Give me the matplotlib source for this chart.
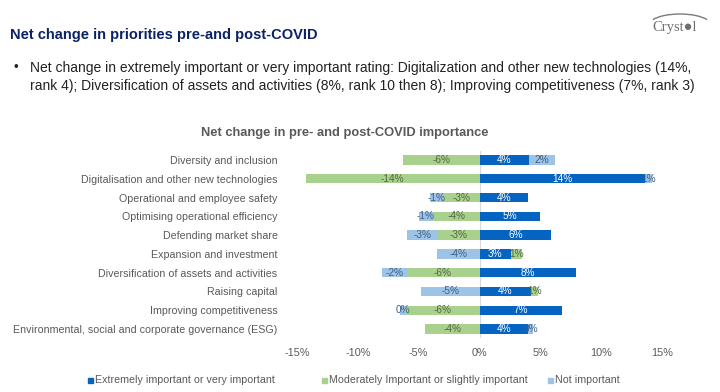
"""Diverging stacked bars: net change in priorities pre- and post-COVID."""
import numpy as np
import matplotlib
matplotlib.use("Agg")
import matplotlib.pyplot as plt
from matplotlib.patches import Rectangle, Arc

W, H = 720, 392

categories = [
    "Diversity and inclusion",
    "Digitalisation and other new technologies",
    "Operational and employee safety",
    "Optimising operational efficiency",
    "Defending market share",
    "Expansion and investment",
    "Diversification of assets and activities",
    "Raising capital",
    "Improving competitiveness",
    "Environmental, social and corporate governance (ESG)",
]
# net change, percentage points
extreme = [4.1, 13.6, 4.0, 5.0, 5.9, 2.6, 7.9, 4.2, 6.8, 4.0]
moderate = [-6.3, -14.3, -2.9, -3.8, -3.4, 0.9, -6.0, 0.6, -6.1, -4.5]
not_important = [2.1, 0.6, -1.2, -1.2, -2.6, -3.5, -2.0, -4.8, -0.4, 0.4]

series_names = ["Extremely important or very important",
                "Moderately Important or slightly important",
                "Not important"]
colors = ["#0563C1", "#A9D18E", "#9DC3E6"]
label_colors = ["white", "#55663F", "#3F5F80"]
xticks = [-15, -10, -5, 0, 5, 10, 15]

NAVY = "#0B2265"
GREY = "#595959"


def px(x, y):
    return x / W, 1 - y / H


fig = plt.figure(figsize=(W / 100, H / 100), dpi=100)
plt.rcParams["font.family"] = ["Liberation Sans", "DejaVu Sans"]

# header
fig.text(*px(10, 35), "Net change in priorities pre-and post-COVID",
         fontsize=10.5, fontweight="bold", color=NAVY, va="center",
         family=["Liberation Sans Narrow", "Liberation Sans"])
fig.text(*px(14, 68), "•", fontsize=9.5, color="#222222", va="center")
fig.text(*px(30, 68),
         "Net change in extremely important or very important rating: "
         "Digitalization and other new technologies (14%,",
         fontsize=10, color="#222222", va="center")
fig.text(*px(30, 86),
         "rank 4); Diversification of assets and activities (8%, rank 10 then 8); "
         "Improving competitiveness (7%, rank 3)",
         fontsize=10, color="#222222", va="center")

# logo
fig.text(*px(675, 27), "Cryst\u25cfl", fontsize=10.5, color="#6E6E6E",
         ha="center", va="center", family=["Liberation Serif", "DejaVu Serif"])
fig.add_artist(Arc(px(680, 25), 62 / W, 22 / H, theta1=20, theta2=160,
                   transform=fig.transFigure, color="#7A7A7A", lw=1))

fig.text(*px(345, 133), "Net change in pre- and post-COVID importance",
         fontsize=9.3, fontweight="bold", color=GREY, ha="center", va="center")

# chart
top, bottom = 150.6, 338.4
ax = fig.add_axes([297 / W, 1 - bottom / H, (662 - 297) / W, (bottom - top) / H])
y = np.arange(len(categories))
pos_left = np.zeros(len(categories))
neg_left = np.zeros(len(categories))
for vals, name, c, lc in zip([extreme, moderate, not_important],
                             series_names, colors, label_colors):
    vals = np.array(vals)
    left = np.where(vals >= 0, pos_left, neg_left)
    ax.barh(y, vals, left=left, height=0.5, color=c, label=name, zorder=2)
    for yi, v, l in zip(y, vals, left):
        r = int(round(abs(v)))
        txt = "0%" if r == 0 else f"{'-' if v < 0 else ''}{r}%"
        ax.text(l + v / 2, yi, txt, ha="center", va="center",
                fontsize=7.2, color=lc, zorder=3)
    pos_left = pos_left + np.where(vals >= 0, vals, 0)
    neg_left = neg_left + np.where(vals < 0, vals, 0)

ax.axvline(0, color="#D9D9D9", lw=0.8, zorder=1)
ax.set_xlim(-15, 15)
ax.set_ylim(len(categories) - 0.5, -0.5)
ax.set_xticks(xticks)
ax.set_xticklabels([f"{t}%" for t in xticks])
ax.set_yticks(y)
ax.set_yticklabels(categories)
ax.tick_params(axis="x", length=0, pad=7, labelsize=7.8, labelcolor=GREY)
ax.tick_params(axis="y", length=0, pad=14, labelsize=7.7, labelcolor=GREY)
for s in ax.spines.values():
    s.set_visible(False)

# legend
legend_x = [88, 322, 548]
for lx, name, c in zip(legend_x, series_names, colors):
    fig.add_artist(Rectangle(px(lx, 383), 5 / W, 5 / H, color=c,
                             transform=fig.transFigure))
    fig.text(*px(lx + 7, 380), name, fontsize=7.7, color=GREY, va="center")

fig.savefig("out.png", dpi=100)
